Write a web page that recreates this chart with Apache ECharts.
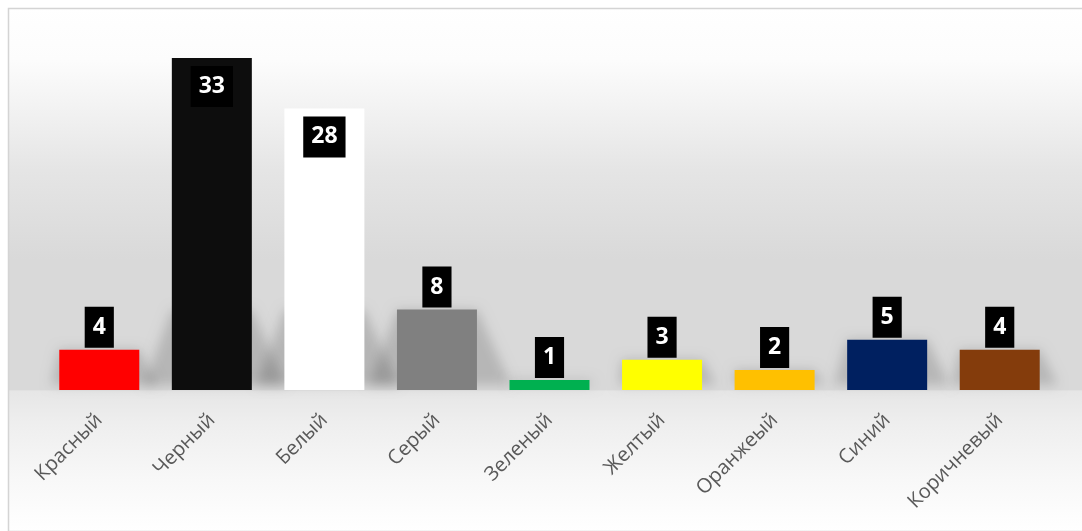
<!DOCTYPE html>
<html>
<head>
<meta charset="utf-8">
<script src="https://cdn.jsdelivr.net/npm/echarts@6/dist/echarts.min.js"></script>
<style>
html,body{margin:0;padding:0;background:#fff;}
#chart{width:1082px;height:531px;}
</style>
</head>
<body>
<div id="chart"></div>
<script>
const categories = ['Красный','Черный','Белый','Серый','Зеленый','Желтый','Оранжеый','Синий','Коричневый'];
const values = [4, 33, 28, 8, 1, 3, 2, 5, 4];
const barColors = ['#FF0000','#0D0D0D','#FFFFFF','#808080','#00B050','#FFFF00','#FFC000','#002060','#843C0C'];

const BAR_W = 80;
const chart = echarts.init(document.getElementById('chart'));

const bgStops = [
  {offset: 0.00, color: '#ffffff'},
  {offset: 0.10, color: '#fcfcfc'},
  {offset: 0.176, color: '#f4f4f4'},
  {offset: 0.31, color: '#e5e5e5'},
  {offset: 0.48, color: '#d9d9d9'},
  {offset: 0.7285, color: '#d9d9d9'},
  {offset: 0.7305, color: '#e6e6e6'},
  {offset: 0.79, color: '#eeeeee'},
  {offset: 0.90, color: '#f8f8f8'},
  {offset: 1.00, color: '#ffffff'}
];

const option = {
  animation: false,
  backgroundColor: '#ffffff',
  graphic: [
    {
      type: 'rect', z: -10, silent: true,
      shape: {x: 8.5, y: 8.5, width: 1090, height: 523},
      style: {
        fill: new echarts.graphic.LinearGradient(0, 0, 0, 1, bgStops),
        stroke: '#d4d4d4', lineWidth: 1.5
      }
    }
  ],
  grid: {left: 43, right: 26, top: 38, bottom: 141, containLabel: false},
  xAxis: {
    type: 'category',
    data: categories,
    axisLine: {show: false},
    axisTick: {show: false},
    axisLabel: {
      rotate: 45, margin: 27, interval: 0,
      color: '#595959', fontSize: 20, fontFamily: 'Open Sans'
    }
  },
  yAxis: {
    type: 'value', min: 0, max: 35,
    show: false,
    splitLine: {show: false}
  },
  series: [
    {
      type: 'custom',
      z: 1,
      silent: true,
      data: values.map((v, i) => [i, v]),
      encode: {x: 0, y: 1},
      renderItem: function (params, api) {
        const base = api.coord([api.value(0), 0]);
        const top = api.coord([api.value(0), api.value(1)]);
        const h = base[1] - top[1];
        const t = Math.min(h, 80);
        const sl = Math.max(0, 0.5 * t - 12);
        const sr = 0.4 * t + 2;
        const x0 = base[0] - BAR_W / 2, x1 = base[0] + BAR_W / 2;
        const by = base[1];
        const OFF = 1200;
        return {
          type: 'polygon',
          shape: {points: [
            [x0, by - t - OFF], [x1, by - t - OFF],
            [x1 + sr, by - 5 - OFF], [x0 - sl, by - 5 - OFF]
          ]},
          style: {
            fill: 'rgba(0,0,0,0.4)',
            shadowBlur: 12,
            shadowColor: 'rgba(0,0,0,0.4)',
            shadowOffsetX: 0,
            shadowOffsetY: OFF
          }
        };
      }
    },
    {
      type: 'bar',
      z: 3,
      barWidth: BAR_W,
      data: values.map((v, i) => ({
        value: v,
        itemStyle: {color: barColors[i]},
        label: v > 20 ? {position: 'insideTop', distance: 8} : {position: 'top', distance: 2}
      })),
      label: {
        show: true,
        color: '#ffffff',
        fontFamily: 'Open Sans',
        fontWeight: 'bold',
        fontSize: 23,
        lineHeight: 25,
        backgroundColor: '#000000',
        padding: [8, 8, 8, 8]
      }
    }
  ]
};
chart.setOption(option);
</script>
</body>
</html>
